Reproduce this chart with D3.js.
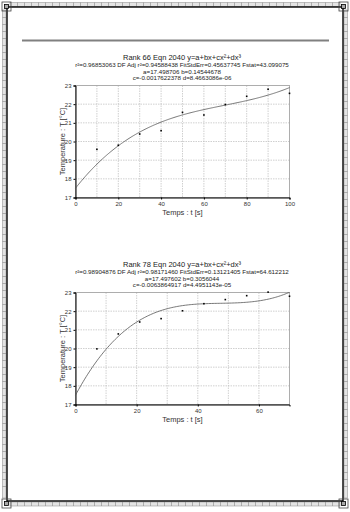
<!DOCTYPE html>
<html><head><meta charset="utf-8">
<script src="https://cdn.jsdelivr.net/npm/d3@7/dist/d3.min.js"></script>
<style>body{margin:0;background:#fff}svg{display:block}text{font-family:"Liberation Sans",Arial,sans-serif}</style>
</head><body><svg id="c" width="350" height="512"></svg>
<script>
// Panel 1 data
const t1 = [10, 20, 30, 40, 50, 60, 70, 80, 90, 100];
const T1 = [19.58, 19.8, 20.4, 20.58, 21.56, 21.42, 21.98, 22.42, 22.8, 22.58];
const coef1 = [17.498706, 0.14544678, -0.0017622378, 8.4663086e-06];
const title1 = ["Rank 66  Eqn 2040  y=a+bx+cx\u00B2+dx\u00B3",
  "r\u00B2=0.96853063  DF Adj r\u00B2=0.94588438  FitStdErr=0.45637745  Fstat=43.099075",
  "a=17.498706 b=0.14544678",
  "c=-0.0017622378 d=8.4663086e-06"];
const xTicks1 = [0, 20, 40, 60, 80, 100];
// Panel 2 data
const t2 = [7, 14, 21, 28, 35, 42, 49, 56, 63, 70];
const T2 = [19.98, 20.78, 21.42, 21.6, 22.02, 22.4, 22.62, 22.83, 23.02, 22.8];
const coef2 = [17.497602, 0.3056044, -0.0063864917, 4.4951143e-05];
const title2 = ["Rank 78  Eqn 2040  y=a+bx+cx\u00B2+dx\u00B3",
  "r\u00B2=0.98904876  DF Adj r\u00B2=0.98171460  FitStdErr=0.13121405  Fstat=64.612212",
  "a=17.497602 b=0.3056044",
  "c=-0.0063864917 d=4.4951143e-05"];
const xTicks2 = [0, 20, 40, 60];
const yTicks = [17, 18, 19, 20, 21, 22, 23];

const svg = d3.select("#c");

function ruler(x0, y0, x1, y1, horiz) {
  svg.append("rect").attr("x", x0).attr("y", y0).attr("width", x1 - x0).attr("height", y1 - y0)
    .attr("fill", "#e4e4e4").attr("stroke", "#9a9a9a").attr("stroke-width", 0.6);
  const n = horiz ? Math.floor((x1 - x0) / 7) : Math.floor((y1 - y0) / 7);
  for (let i = 1; i < n; i++) {
    if (horiz) svg.append("line").attr("x1", x0 + i * 7 + 0.5).attr("x2", x0 + i * 7 + 0.5).attr("y1", y0).attr("y2", y1).attr("stroke", "#888").attr("stroke-width", 0.6);
    else svg.append("line").attr("y1", y0 + i * 7 + 0.5).attr("y2", y0 + i * 7 + 0.5).attr("x1", x0).attr("x2", x1).attr("stroke", "#888").attr("stroke-width", 0.6);
  }
}
ruler(10, 2.5, 340, 6.5, true);
ruler(10, 502, 340, 506, true);
ruler(2.5, 10, 6, 498, false);
ruler(344, 10, 347.5, 498, false);
svg.append("rect").attr("x", 7).attr("y", 7).attr("width", 336).attr("height", 494)
  .attr("fill", "none").attr("stroke", "#000").attr("stroke-width", 1.4);
[[2, 2], [339, 2], [2, 499], [339, 499]].forEach(([x, y]) => {
  svg.append("rect").attr("x", x).attr("y", y).attr("width", 9).attr("height", 9).attr("fill", "none").attr("stroke", "#444").attr("stroke-width", 0.8);
  svg.append("rect").attr("x", x + 2.5).attr("y", y + 2.5).attr("width", 4).attr("height", 4).attr("fill", "#aaa").attr("stroke", "#000").attr("stroke-width", 0.8);
});
svg.append("line").attr("x1", 22).attr("x2", 329).attr("y1", 40.5).attr("y2", 40.5)
  .attr("stroke", "#808080").attr("stroke-width", 2);

function panel(cfg) {
  const x = d3.scaleLinear().domain(cfg.xDom).range([cfg.left, cfg.right]);
  const y = d3.scaleLinear().domain([17, 23]).range([cfg.bottom, cfg.top]);
  const g = svg.append("g");
  cfg.title.forEach((s, i) => {
    g.append("text").attr("x", 182).attr("y", cfg.titleY[i]).attr("text-anchor", "middle")
      .attr("font-size", i === 0 ? 7.5 : 6.2).attr("fill", "#222").text(s);
  });
  const xg = d3.range(cfg.xDom[0] + 10, cfg.xDom[1], 10);
  g.selectAll(null).data(xg).join("line").attr("x1", d => x(d)).attr("x2", d => x(d))
    .attr("y1", cfg.top).attr("y2", cfg.bottom).attr("stroke", "#bbb").attr("stroke-width", 0.7).attr("stroke-dasharray", "1.5,1");
  g.selectAll(null).data(yTicks.slice(1, -1)).join("line").attr("y1", d => y(d)).attr("y2", d => y(d))
    .attr("x1", cfg.left).attr("x2", cfg.right).attr("stroke", "#bbb").attr("stroke-width", 0.7).attr("stroke-dasharray", "1.5,1");
  g.append("rect").attr("x", cfg.left).attr("y", cfg.top).attr("width", cfg.right - cfg.left).attr("height", cfg.bottom - cfg.top)
    .attr("fill", "none").attr("stroke", "#999").attr("stroke-width", 0.8);
  const ax = g.append("g").attr("transform", `translate(0,${cfg.bottom})`)
    .call(d3.axisBottom(x).tickValues(cfg.xTicks).tickFormat(d3.format("d")).tickSize(2).tickPadding(2));
  const ay = g.append("g").attr("transform", `translate(${cfg.left},0)`)
    .call(d3.axisLeft(y).tickValues(yTicks).tickFormat(d3.format("d")).tickSize(2).tickPadding(2));
  [ax, ay].forEach(a => {
    a.select(".domain").attr("stroke", "#000").attr("stroke-width", 1);
    a.selectAll("text").attr("font-size", 6).attr("fill", "#333").attr("font-family", "Liberation Sans, Arial, sans-serif");
    a.selectAll(".tick line").attr("stroke", "#000");
  });
  g.append("text").attr("x", (cfg.left + cfg.right) / 2).attr("y", cfg.bottom + 17).attr("text-anchor", "middle")
    .attr("font-size", 7.5).attr("fill", "#333").text("Temps : t [s]");
  g.append("text").attr("transform", `translate(${cfg.left - 11},${(cfg.top + cfg.bottom) / 2}) rotate(-90)`)
    .attr("text-anchor", "middle").attr("font-size", 7.5).attr("fill", "#333").text("Temperature : T [\u00B0C]");
  const c = cfg.coef;
  const f = v => c[0] + c[1] * v + c[2] * v * v + c[3] * v * v * v;
  const xs = d3.range(cfg.xDom[0], cfg.xDom[1] + 0.01, 0.5);
  g.append("path").datum(xs).attr("fill", "none").attr("stroke", "#555").attr("stroke-width", 0.8)
    .attr("d", d3.line().x(d => x(d)).y(d => y(Math.min(23, f(d)))));
  g.selectAll(null).data(cfg.t).join("rect")
    .attr("x", (d) => x(d) - 0.8).attr("y", (d, i) => y(cfg.T[i]) - 0.8).attr("width", 1.6).attr("height", 1.6).attr("fill", "#000");
}

panel({ t: t1, T: T1, coef: coef1, title: title1, xTicks: xTicks1, xDom: [0, 100],
  left: 75.5, right: 289.5, top: 85.5, bottom: 197.5, titleY: [60, 67, 73.5, 80] });
panel({ t: t2, T: T2, coef: coef2, title: title2, xTicks: xTicks2, xDom: [0, 70],
  left: 75.5, right: 289.5, top: 292.5, bottom: 404.5, titleY: [267, 274, 280.5, 287] });
</script></body></html>
